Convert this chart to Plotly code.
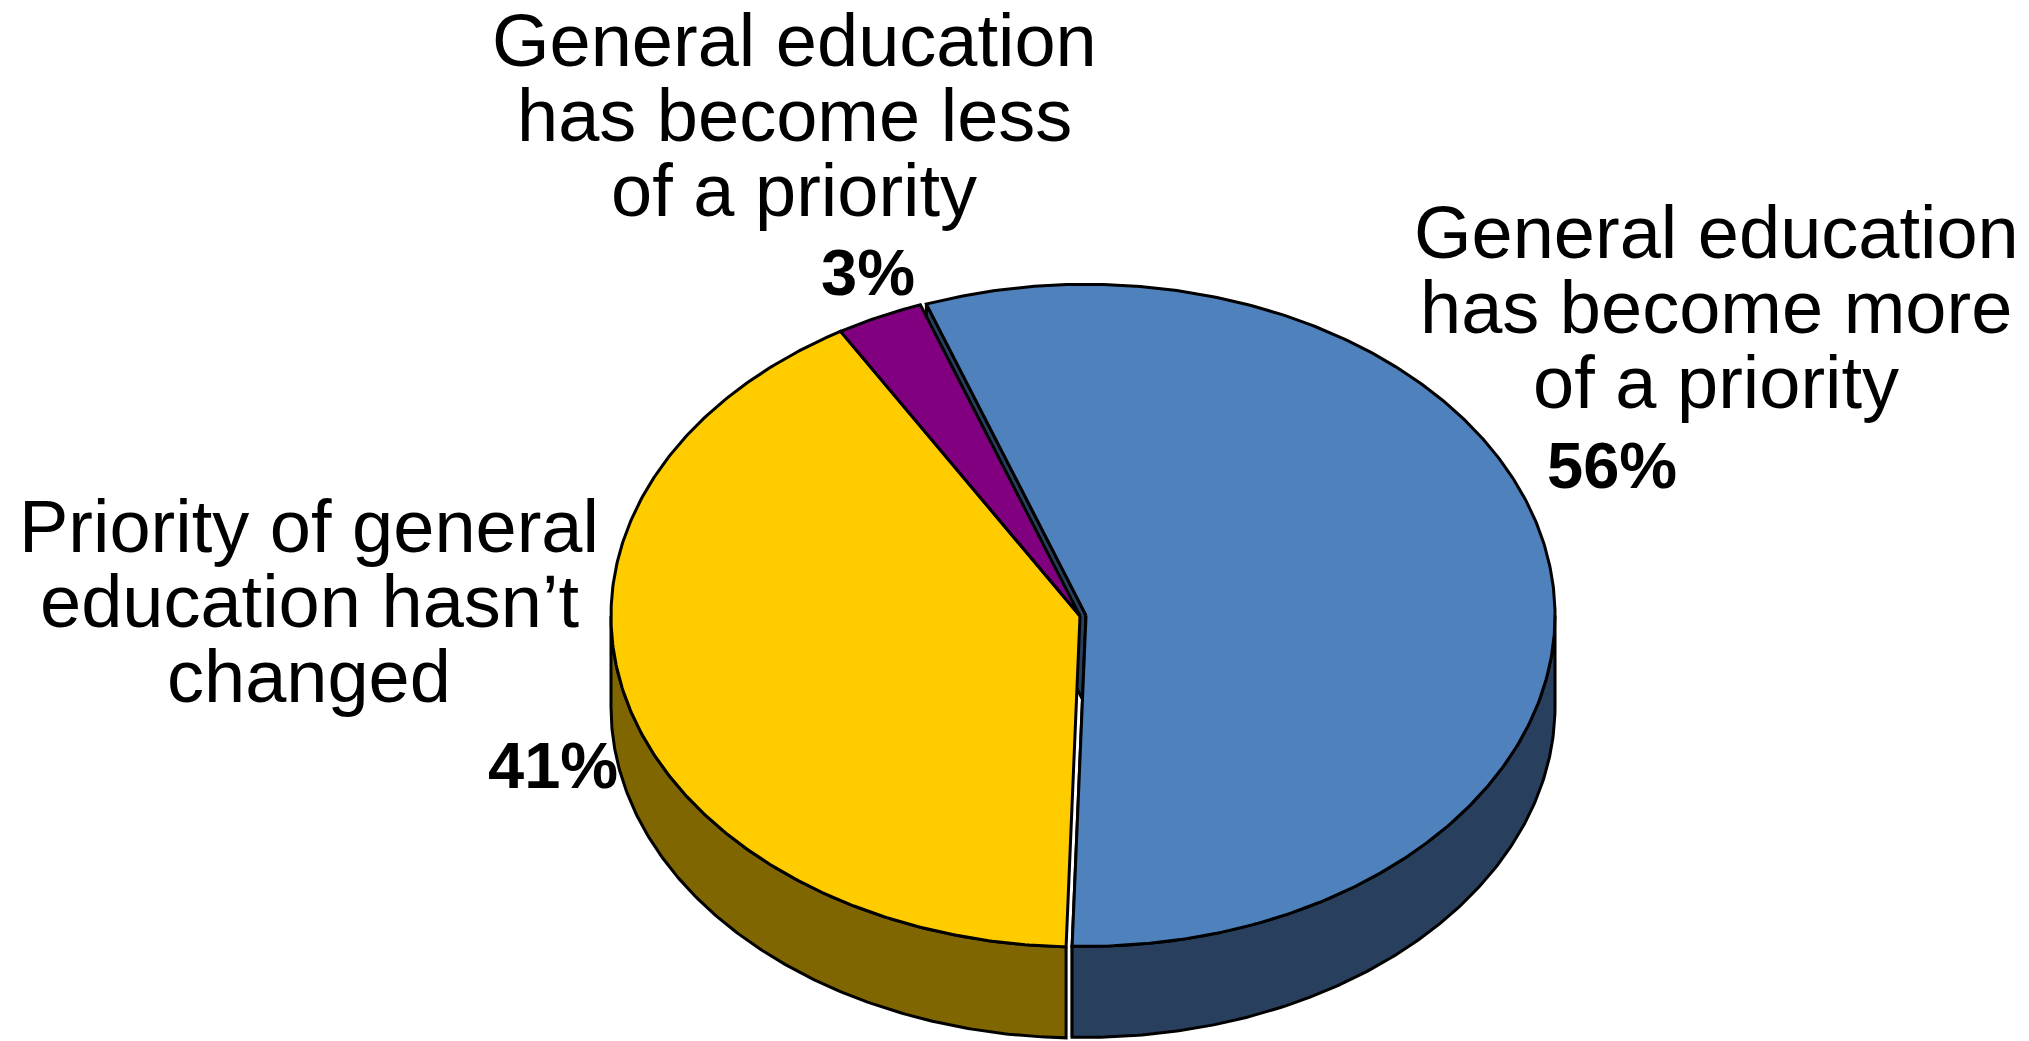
import numpy as np
import plotly.graph_objects as go

# ---- data ----
categories = [
    "General education has become more of a priority",
    "Priority of general education hasn\u2019t changed",
    "General education has become less of a priority",
]
values = [56, 41, 3]
pct_labels = ["56%", "41%", "3%"]
label_lines = [
    ["General education", "has become more", "of a priority"],
    ["Priority of general", "education hasn\u2019t", "changed"],
    ["General education", "has become less", "of a priority"],
]

# ---- styling ----
top_colors = ["#4F81BD", "#FFCC00", "#800080"]
side_colors = ["#283F5E", "#7F6600", "#400040"]
explode = [0.013, 0.0, 0.0]

W, H = 2029, 1041
CX, CY, RX, RY, DEPTH = 1080.0, 616.0, 469.0, 331.0, 91.0
START_DEG = -19.9          # clockwise from 12 o'clock
EDGE = dict(color="black", width=3)

# label placement: (center x, first baseline, line pitch), percent (center x, baseline)
label_pos = [(1716, 258, 75), (309, 552, 75), (794, 66, 75)]
pct_pos = [(1612, 488), (553, 788), (868, 295)]
FONT = "Liberation Sans, Arial, sans-serif"
LABEL_SIZE = 74
PCT_SIZE = 65


def rim(theta_deg, off, dz=0.0):
    t = np.radians(theta_deg)
    return (CX + off[0] + RX * np.sin(t), CY + off[1] - RY * np.cos(t) + dz)


def arc(a0, a1, off, dz=0.0, n=None):
    n = n or max(8, int(abs(a1 - a0) * 2))
    th = np.linspace(a0, a1, n)
    xs, ys = rim(th, off, dz)
    return list(xs), list(ys)


total = float(sum(values))
bounds = []
acc = 0.0
for v in values:
    a0 = START_DEG + 360.0 * acc / total
    acc += v
    a1 = START_DEG + 360.0 * acc / total
    bounds.append((a0, a1))

offsets = []
for (a0, a1), e in zip(bounds, explode):
    mid = np.radians((a0 + a1) / 2)
    offsets.append((e * RX * np.sin(mid), -e * RY * np.cos(mid)))

fig = go.Figure()


def poly(xs, ys, fill):
    fig.add_trace(go.Scatter(
        x=xs, y=ys, mode="lines", fill="toself", fillcolor=fill,
        line=EDGE, hoverinfo="skip", showlegend=False))


# 1. radial walls of exploded slices
for i, ((a0, a1), off) in enumerate(zip(bounds, offsets)):
    if explode[i] <= 0:
        continue
    for a in (a0, a1):
        ax, ay = CX + off[0], CY + off[1]
        rx_, ry_ = rim(a, off)
        poly([ax, rx_, rx_, ax, ax], [ay, ry_, ry_ + DEPTH, ay + DEPTH, ay], side_colors[i])

# 2. outer walls on the front half of the ellipse
for i, ((a0, a1), off) in enumerate(zip(bounds, offsets)):
    for shift in (-360, 0, 360):
        lo = max(a0, 90 + shift)
        hi = min(a1, 270 + shift)
        if hi - lo <= 0.01:
            continue
        tx, ty = arc(lo, hi, off)
        bx, by = arc(hi, lo, off, DEPTH)
        poly(tx + bx + [tx[0]], ty + by + [ty[0]], side_colors[i])

# 3. top faces
for i, ((a0, a1), off) in enumerate(zip(bounds, offsets)):
    ax, ay = CX + off[0], CY + off[1]
    tx, ty = arc(a0, a1, off)
    poly([ax] + tx + [ax], [ay] + ty + [ay], top_colors[i])

# ---- labels ----
ann = []
for lines, (lx, base, pitch) in zip(label_lines, label_pos):
    for k, line in enumerate(lines):
        b = base + k * pitch
        ann.append(dict(
            x=lx, y=b - 0.3465 * LABEL_SIZE, text=line, showarrow=False,
            xanchor="center", yanchor="middle", xref="x", yref="y",
            font=dict(family=FONT, size=LABEL_SIZE, color="black")))
for txt, (px, pb) in zip(pct_labels, pct_pos):
    ann.append(dict(
        x=px, y=pb - 0.3465 * PCT_SIZE, text="<b>" + txt + "</b>", showarrow=False,
        xanchor="center", yanchor="middle", xref="x", yref="y",
        font=dict(family=FONT, size=PCT_SIZE, color="black")))

fig.update_layout(
    width=W, height=H, autosize=False,
    margin=dict(l=0, r=0, t=0, b=0),
    paper_bgcolor="white", plot_bgcolor="white",
    xaxis=dict(range=[0, W], visible=False, fixedrange=True),
    yaxis=dict(range=[H, 0], visible=False, fixedrange=True),
    annotations=ann,
    showlegend=False,
)

fig.write_html("out.html", config={"displayModeBar": False})
